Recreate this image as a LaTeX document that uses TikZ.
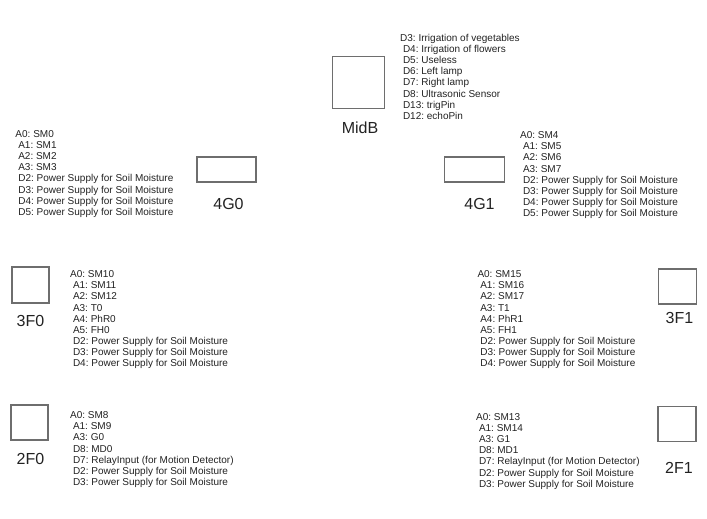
\documentclass[tikz,border=0pt]{standalone}
\usepackage{fontspec}
\setmainfont{Liberation Sans}
\frenchspacing
\definecolor{boxgray}{RGB}{110,110,110}
\definecolor{txt}{RGB}{34,34,34}
\newcommand\pinlist[4]{%
  \foreach \t [count=\i from 0] in {#4} {
    \node[pinline] (#1-\i) at ({#2 + (\i>0)*2.8}, {#3 + \i*11.15}) {\t};
  }%
}
\begin{document}
\begin{tikzpicture}[x=1bp,y=-1bp,
  pinline/.style={anchor=base west, inner sep=0, text=txt, font=\fontsize{10bp}{11.5bp}\selectfont\frenchspacing},
  board/.style={draw=boxgray, line width=1.4bp, inner sep=0, fill=white},
  boardlabel/.style={anchor=base, inner sep=0, text=txt, font=\fontsize{16bp}{19bp}\selectfont}]
\useasboundingbox (0,0) rectangle (707,519);
% boards
\node[board, minimum width=52bp, minimum height=52bp] (midb) at (358.5,82.5) {};
\node[boardlabel] (midbL) at (360,134) {MidB};
\node[board, minimum width=59bp, minimum height=25bp] (g0) at (226.5,169.5) {};
\node[boardlabel] (g0L) at (228.5,210) {4G0};
\node[board, minimum width=60bp, minimum height=25bp] (g1) at (474.5,169.5) {};
\node[boardlabel] (g1L) at (479.5,210) {4G1};
\node[board, minimum width=37bp, minimum height=36bp] (f30) at (30.5,285) {};
\node[boardlabel] (f30L) at (30.5,326.5) {3F0};
\node[board, minimum width=38bp, minimum height=35bp] (f31) at (677.5,286.5) {};
\node[boardlabel] (f31L) at (679.5,323.5) {3F1};
\node[board, minimum width=37bp, minimum height=35bp] (f20) at (29.5,422.5) {};
\node[boardlabel] (f20L) at (30.5,464) {2F0};
\node[board, minimum width=38bp, minimum height=35bp] (f21) at (677,424) {};
\node[boardlabel] (f21L) at (679,473) {2F1};
% pin lists
\pinlist{midbP}{400}{41.3}{D3: Irrigation of vegetables,D4: Irrigation of flowers,D5: Useless,D6: Left lamp,D7: Right lamp,D8: Ultrasonic Sensor,D13: trigPin,D12: echoPin}
\pinlist{g0P}{15.3}{137.3}{A0: SM0,A1: SM1,A2: SM2,A3: SM3,D2: Power Supply for Soil Moisture,D3: Power Supply for Soil Moisture,D4: Power Supply for Soil Moisture,D5: Power Supply for Soil Moisture}
\pinlist{g1P}{520}{138.6}{A0: SM4,A1: SM5,A2: SM6,A3: SM7,D2: Power Supply for Soil Moisture,D3: Power Supply for Soil Moisture,D4: Power Supply for Soil Moisture,D5: Power Supply for Soil Moisture}
\pinlist{f30P}{70}{277.6}{A0: SM10,A1: SM11,A2: SM12,A3: T0,A4: PhR0,A5: FH0,D2: Power Supply for Soil Moisture,D3: Power Supply for Soil Moisture,D4: Power Supply for Soil Moisture}
\pinlist{f31P}{477.3}{277.6}{A0: SM15,A1: SM16,A2: SM17,A3: T1,A4: PhR1,A5: FH1,D2: Power Supply for Soil Moisture,D3: Power Supply for Soil Moisture,D4: Power Supply for Soil Moisture}
\pinlist{f20P}{70}{418.6}{A0: SM8,A1: SM9,A3: G0,D8: MD0,D7: RelayInput (for Motion Detector),D2: Power Supply for Soil Moisture,D3: Power Supply for Soil Moisture}
\pinlist{f21P}{476}{420.3}{A0: SM13,A1: SM14,A3: G1,D8: MD1,D7: RelayInput (for Motion Detector),D2: Power Supply for Soil Moisture,D3: Power Supply for Soil Moisture}
\end{tikzpicture}
\end{document}
